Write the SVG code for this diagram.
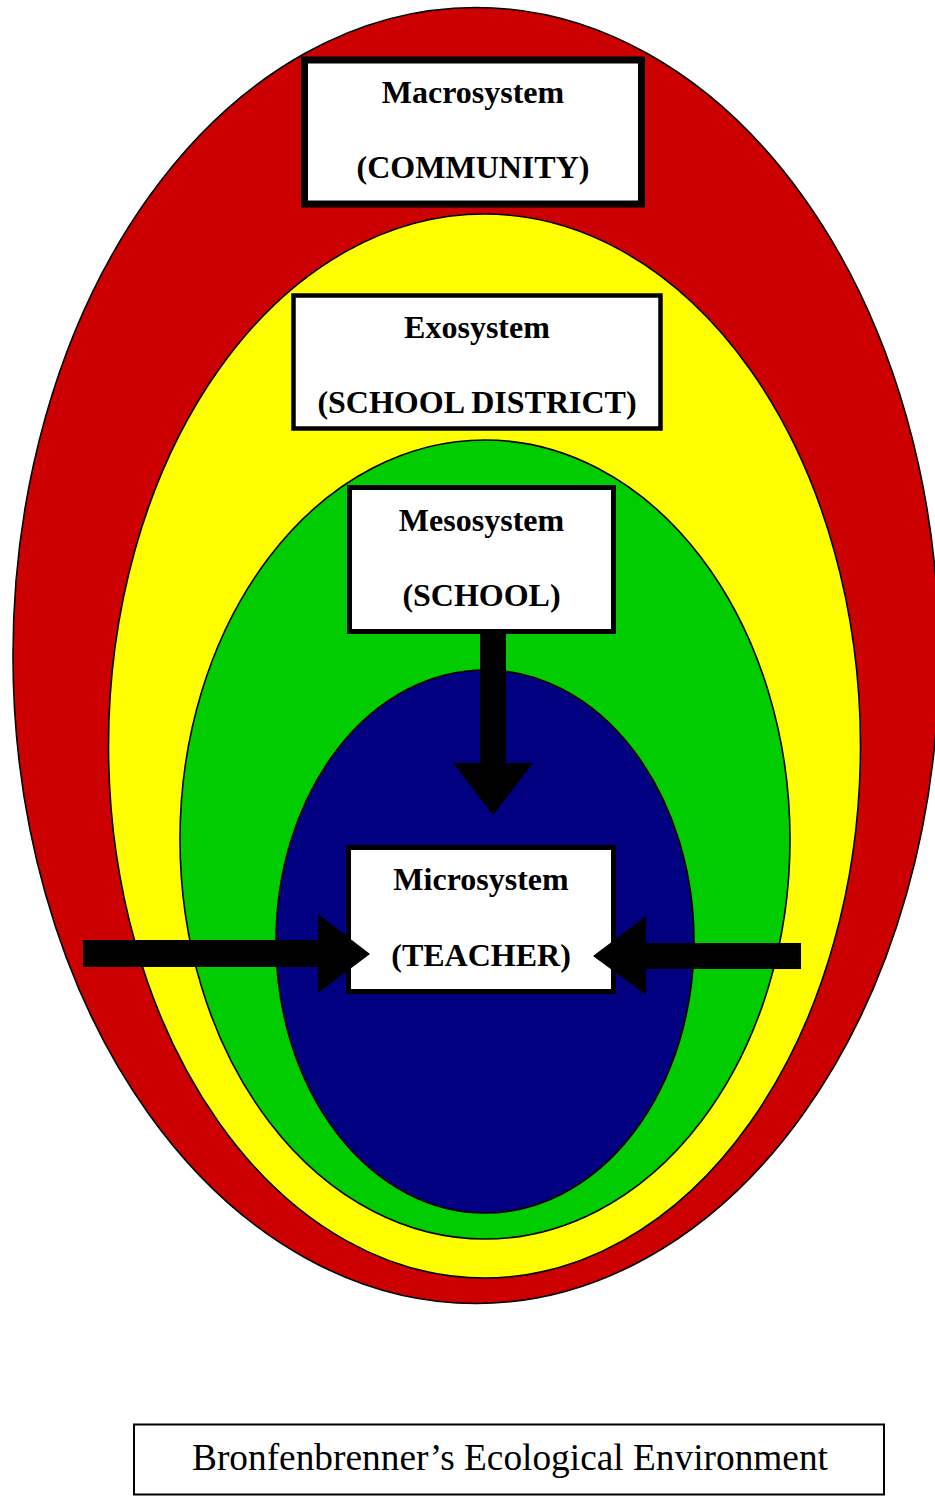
<svg xmlns="http://www.w3.org/2000/svg" width="935" height="1496" viewBox="0 0 935 1496">
  <style>
    .ring { stroke: #000; stroke-width: 1.6; }
    .box { fill: #fff; stroke: #000; }
    .lbl { font-family: "Liberation Serif", "Times New Roman", serif; font-weight: bold; font-size: 32px; text-anchor: middle; fill: #000; }
    .cap { font-family: "Liberation Serif", "Times New Roman", serif; font-size: 37px; text-anchor: middle; fill: #000; }
    .arrow { fill: #000; stroke: none; }
  </style>
  <rect x="0" y="0" width="935" height="1496" fill="#fff"/>
  <g id="rings">
    <ellipse id="macro-ring" class="ring" cx="476" cy="655.5" rx="463" ry="648" fill="#cc0000"/>
    <ellipse id="exo-ring" class="ring" cx="484.5" cy="746" rx="376" ry="532" fill="#ffff00"/>
    <ellipse id="meso-ring" class="ring" cx="485" cy="839.5" rx="305" ry="399.5" fill="#00cc00"/>
    <ellipse id="micro-ring" class="ring" cx="485" cy="941.5" rx="209" ry="271.5" fill="#000080"/>
  </g>
  <g id="macrosystem">
    <rect class="box" x="304.5" y="60" width="337" height="144" stroke-width="7"/>
    <text class="lbl" x="473" y="103">Macrosystem</text>
    <text class="lbl" x="473" y="178">(COMMUNITY)</text>
  </g>
  <g id="exosystem">
    <rect class="box" x="293.5" y="295.5" width="367" height="133" stroke-width="4.5"/>
    <text class="lbl" x="477" y="338">Exosystem</text>
    <text class="lbl" x="477" y="413">(SCHOOL DISTRICT)</text>
  </g>
  <g id="mesosystem">
    <rect class="box" x="349.5" y="487.5" width="264" height="144" stroke-width="5"/>
    <text class="lbl" x="481.5" y="531">Mesosystem</text>
    <text class="lbl" x="481.5" y="606">(SCHOOL)</text>
  </g>
  <g id="microsystem">
    <rect class="box" x="348.5" y="847.5" width="265" height="144" stroke-width="5"/>
    <text class="lbl" x="481" y="890">Microsystem</text>
    <text class="lbl" x="481" y="966">(TEACHER)</text>
  </g>
  <g id="connectors">
    <polygon class="arrow" points="480,634 506,634 506,763 533,763 493,815 453,763 480,763"/>
    <polygon class="arrow" points="83,940 318,940 318,914 370,954 318,993 318,967 83,967"/>
    <polygon class="arrow" points="801,943 646,943 646,916 593,956 646,995 646,969 801,969"/>
  </g>
  <g id="caption">
    <rect class="box" x="134" y="1424.5" width="750" height="70" stroke-width="2"/>
    <text class="cap" x="510" y="1470" textLength="636" lengthAdjust="spacingAndGlyphs">Bronfenbrenner’s Ecological Environment</text>
  </g>
</svg>
